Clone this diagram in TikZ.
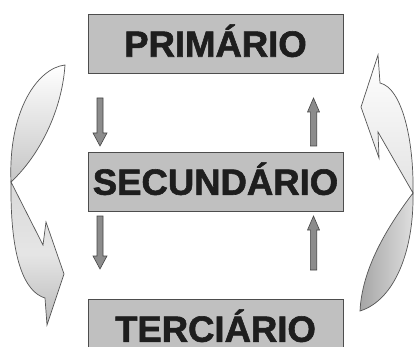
\documentclass[tikz,border=0pt]{standalone}
\usepackage{fontspec}
\setmainfont{Liberation Sans}
\newfontfamily\heavyfont{Liberation Sans Bold}[FakeBold=1.6]
\definecolor{boxfill}{HTML}{C0C0C0}
\definecolor{boxline}{HTML}{4D4D4D}
\definecolor{txt}{HTML}{1E1E1E}
\definecolor{arrfill}{HTML}{8C8C8C}
\definecolor{arrline}{HTML}{444444}
\definecolor{curveline}{HTML}{555555}
\tikzset{
  sector/.style={draw=boxline, line width=0.9pt, fill=boxfill, rectangle,
    minimum width=255pt, minimum height=59pt, inner sep=0pt,
    text height=26.5pt, text depth=0pt, text=txt,
    font=\heavyfont\fontsize{36.5}{40}\selectfont},
  blockarr/.style={draw=arrline, line width=0.6pt, fill=arrfill, line join=miter},
  ribbon/.style={draw=curveline, line width=0.7pt, line join=miter}
}
\begin{document}
\begin{tikzpicture}[x=1pt, y=-1pt]
\useasboundingbox (0,0) rectangle (414,347);
\fill[white] (0,0) rectangle (414,347);
\clip (0,0) rectangle (414,347);

% boxes
\node[sector] (prim) at (215.5,43.5) {PRIMÁRIO};
\node[sector] (sec) at (215.5,181.5) {SECUNDÁRIO};
\node[sector] (ter) at (215.5,328.5) {TERCIÁRIO};

% small block arrows (left: down, right: up)
\draw[blockarr] (97,98) -- (103,98) -- (103,133) -- (107,133) -- (100,146) -- (93,133) -- (97,133) -- cycle;
\draw[blockarr] (97,216) -- (103,216) -- (103,256) -- (107,256) -- (100,269) -- (93,256) -- (97,256) -- cycle;
\draw[blockarr] (310.3,146) -- (316.7,146) -- (316.7,112) -- (319.5,112) -- (313.5,98) -- (307.5,112) -- (310.3,112) -- cycle;
\draw[blockarr] (310.3,270) -- (316.7,270) -- (316.7,230) -- (319.5,230) -- (313.5,216) -- (307.5,230) -- (310.3,230) -- cycle;

% left curved arrow: upper lobe
\coordinate (LT) at (65,65);
\coordinate (LV) at (11,182);
\draw[ribbon, top color=white, bottom color=gray!45]
  (LT) .. controls (38,68) and (8,110) .. (LV)
       .. controls (40,155) and (62,110) .. (LT) -- cycle;
% left curved arrow: lower part with head
\draw[ribbon, top color=gray!30, bottom color=gray!55, middle color=gray!20]
  (LV) -- (43,245) -- (46,222) -- (64,274) -- (47,325) -- (45,298)
       .. controls (25,292) and (10,260) .. (LV) -- cycle;

% right curved arrow: upper part with head
\coordinate (RT) at (378,55);
\coordinate (RV) at (413,193);
\draw[ribbon, top color=white, bottom color=gray!22]
  (RT) -- (361,107) -- (379,158) -- (378,132) -- (RV)
       .. controls (414,140) and (402,88) .. (380,83) -- cycle;
% right curved arrow: lower lobe
\draw[ribbon, left color=gray!70, right color=gray!25]
  (RV) .. controls (385,230) and (362,270) .. (360,311)
       .. controls (395,300) and (414,250) .. (RV) -- cycle;
\end{tikzpicture}
\end{document}
